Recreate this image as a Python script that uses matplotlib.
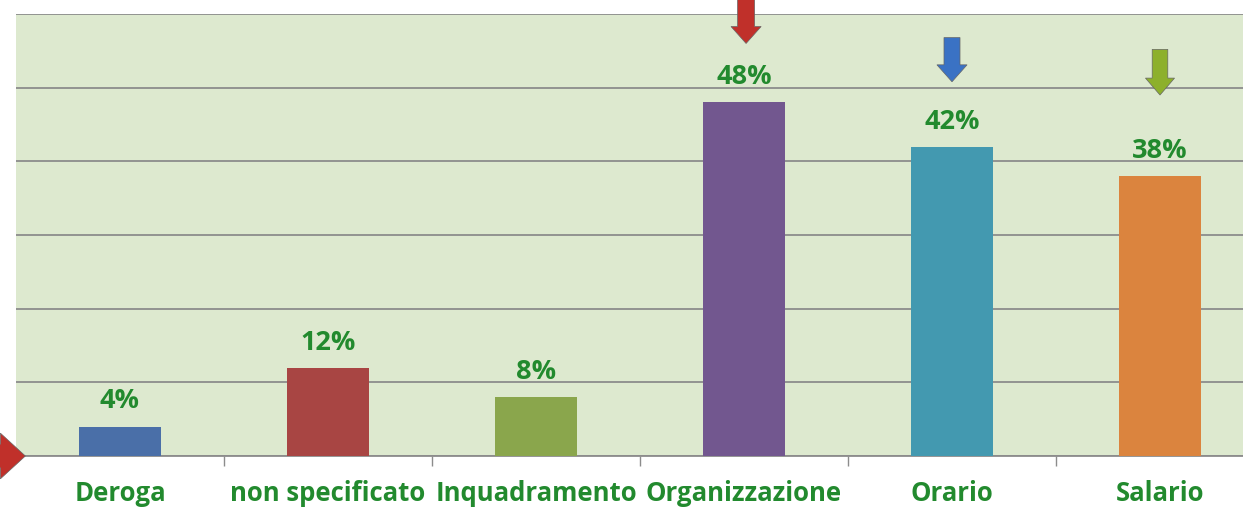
import matplotlib.pyplot as plt
from matplotlib.patches import FancyArrow

categories = ["Deroga", "non specificato", "Inquadramento", "Organizzazione", "Orario", "Salario"]
values = [4, 12, 8, 48, 42, 38]
bar_colors = ["#4a6fa8", "#a84543", "#8aa64c", "#72578f", "#4399b0", "#db843e"]

label_green = "#228a2e"
plt.rcParams['font.family'] = ['Open Sans', 'DejaVu Sans']

fig = plt.figure(figsize=(12.43, 5.08), dpi=100)
ax = fig.add_axes([16 / 1243, 52 / 508, 1248 / 1243, 442 / 508])
ax.set_facecolor("#dde9cf")

x = list(range(len(categories)))
ax.bar(x, values, width=0.395, color=bar_colors, zorder=3)

for xi, v in zip(x, values):
    ax.text(xi, v + 3.4, f"{v}%", ha="center", va="center", fontsize=19.5,
            fontweight="bold", color=label_green, zorder=4)

ax.set_xlim(-0.5, len(categories) - 0.5)
ax.set_ylim(0, 60)
ax.set_yticks(range(0, 61, 10))
ax.yaxis.grid(True, color="#8c8c8c", linewidth=1.3, zorder=1)
ax.tick_params(axis="y", left=False, labelleft=False)

ax.set_xticks(x)
ax.set_xticklabels(categories, fontsize=18.5, fontweight="bold", color=label_green)
ax.tick_params(axis="x", length=0, pad=17)
ax.set_xticks([i + 0.5 for i in x[:-1]], minor=True)
ax.tick_params(axis="x", which="minor", length=7, color="#8c8c8c", width=1)

for side in ["left", "right", "top"]:
    ax.spines[side].set_visible(False)
ax.spines["bottom"].set_color("#8c8c8c")
ax.spines["bottom"].set_linewidth(1.3)

# decorative arrows: (category, top, tip, shaft width, head width, colour)
arrows = [(3.01, 62.5, 56.0, 0.082, 0.145, "#c0302a"),
          (4.0, 56.8, 50.8, 0.077, 0.145, "#3a72c4"),
          (5.0, 55.2, 49.0, 0.075, 0.14, "#8db02c")]
for xi, top, tip, w, hw, c in arrows:
    ax.add_patch(FancyArrow(xi, top, 0, tip - top, width=w, head_width=hw,
                            head_length=2.3, length_includes_head=True,
                            color=c, ec="#666666", lw=0.5, clip_on=False, zorder=5))
ax.add_patch(FancyArrow(-0.62, 0, 0.165, 0, width=3.2, head_width=6.2,
                        head_length=0.12, length_includes_head=True,
                        color="#c0302a", ec="#666666", lw=0.5, clip_on=False, zorder=5))

fig.savefig("out.png", dpi=100)
